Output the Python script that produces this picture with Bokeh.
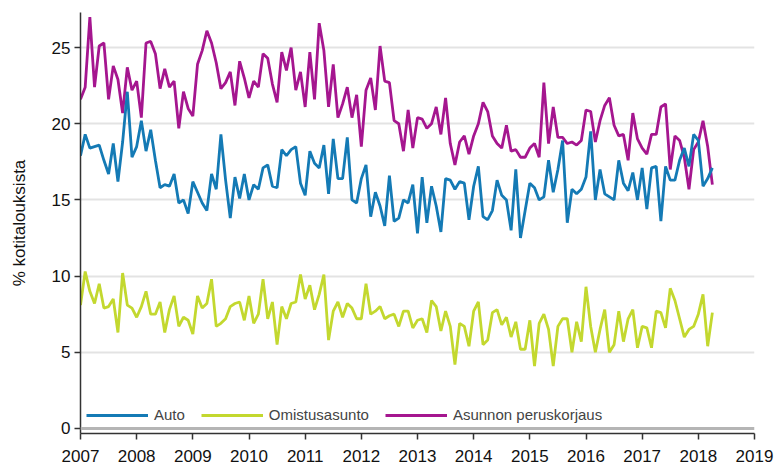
from bokeh.plotting import figure
from bokeh.models import FixedTicker, Span, Legend, LegendItem, ColumnDataSource
from bokeh.embed import file_html
from bokeh.resources import INLINE

start_year = 2007
asunnon = [
    21.6, 22.4, 27.0, 22.4, 25.1, 25.3, 21.6, 23.8, 22.9, 20.7, 23.7, 22.2,
    22.8, 20.4, 25.3, 25.4, 24.6, 22.3, 23.6, 22.4, 22.8, 19.7, 22.1, 21.0,
    20.5, 23.9, 24.8, 26.1, 25.3, 24.0, 22.3, 22.7, 23.4, 21.2, 24.1, 23.0,
    21.7, 22.8, 22.4, 24.6, 24.3, 22.6, 21.4, 24.7, 23.5, 25.0, 22.2, 23.4,
    21.1, 24.7, 21.6, 26.6, 24.8, 21.1, 23.9, 20.4, 21.3, 22.4, 20.4, 21.9,
    18.5, 22.2, 23.0, 20.9, 25.1, 22.8, 22.7, 20.2, 20.0, 18.2, 20.9, 18.4,
    20.4, 20.3, 19.7, 20.0, 21.1, 19.3, 21.7, 18.7, 17.3, 18.8, 19.2, 18.0,
    19.2, 20.0, 21.4, 20.8, 19.2, 18.7, 18.4, 19.9, 18.2, 18.3, 17.8, 17.8,
    18.4, 18.7, 17.8, 22.7, 18.7, 21.1, 19.1, 19.1, 18.7, 18.8, 18.6, 18.9,
    20.9, 20.8, 18.8, 20.2, 21.2, 21.7, 19.9, 19.2, 19.3, 17.6, 20.7, 19.0,
    18.4, 18.0, 19.3, 19.3, 21.1, 21.3, 17.0, 19.2, 18.9, 17.8, 15.7, 18.3,
    18.8, 20.2, 18.5, 16.0,
]
auto = [
    17.9, 19.3, 18.4, 18.5, 18.6, 17.6, 16.7, 18.7, 16.2, 18.8, 22.1, 17.8,
    18.5, 20.2, 18.2, 19.6, 17.6, 15.8, 16.0, 15.9, 16.7, 14.8, 15.0, 14.1,
    16.2, 15.5, 14.8, 14.3, 16.7, 15.7, 19.3, 16.3, 13.8, 16.5, 15.1, 16.7,
    15.0, 16.0, 15.7, 17.1, 17.3, 15.9, 15.8, 18.3, 17.9, 18.3, 18.5, 16.1,
    15.3, 18.2, 17.4, 17.1, 18.6, 15.4, 19.0, 16.4, 16.4, 19.1, 15.0, 14.8,
    16.4, 17.3, 13.9, 15.5, 14.6, 13.3, 16.6, 13.6, 13.8, 15.0, 14.8, 16.0,
    12.8, 16.5, 13.5, 15.9, 14.6, 12.9, 16.4, 16.3, 15.7, 16.2, 16.1, 13.7,
    15.9, 17.2, 13.9, 13.7, 14.3, 16.3, 15.3, 15.0, 13.0, 17.0, 12.5, 14.3,
    16.1, 15.8, 15.0, 15.2, 17.6, 15.5, 17.0, 18.9, 13.5, 15.7, 15.4, 15.7,
    16.5, 19.5, 15.0, 17.0, 15.4, 15.2, 15.0, 17.6, 16.1, 15.6, 16.8, 15.0,
    17.1, 14.4, 17.1, 17.2, 13.6, 17.2, 16.3, 16.3, 17.6, 18.4, 17.2, 19.3,
    18.9, 15.9, 16.4, 17.1,
]
omistus = [
    8.1, 10.3, 9.0, 8.2, 9.5, 7.9, 8.0, 8.5, 6.3, 10.2, 8.1, 7.9,
    7.3, 8.0, 9.0, 7.5, 7.5, 8.3, 6.3, 7.8, 8.7, 6.7, 7.3, 7.1,
    6.2, 8.7, 7.9, 8.2, 9.8, 6.7, 6.9, 7.2, 8.0, 8.2, 8.3, 7.1,
    8.7, 6.9, 7.5, 9.8, 7.2, 8.3, 5.5, 8.0, 7.2, 8.2, 8.3, 10.1,
    8.5, 9.4, 7.8, 8.8, 10.1, 5.8, 7.7, 8.3, 7.3, 8.2, 7.9, 7.2,
    7.2, 9.5, 7.5, 7.7, 8.0, 7.2, 7.4, 7.5, 6.7, 7.7, 7.7, 6.6,
    7.1, 7.2, 6.3, 8.4, 8.0, 6.4, 7.7, 6.7, 4.2, 6.9, 6.7, 5.4,
    7.7, 8.3, 5.5, 5.8, 7.6, 7.8, 6.8, 7.3, 6.0, 7.0, 5.2, 5.2,
    7.1, 4.1, 6.9, 7.5, 6.5, 4.1, 6.7, 7.2, 7.2, 5.0, 7.0, 5.7,
    9.3, 6.7, 5.0, 6.5, 7.8, 5.0, 5.5, 7.7, 5.7, 7.2, 7.8, 5.3,
    6.7, 6.6, 5.3, 7.7, 7.6, 6.6, 9.2, 8.4, 7.2, 6.0, 6.5, 6.7,
    7.5, 8.8, 5.4, 7.6,
]
year_ticks = list(range(2007, 2020))
y_ticks = [0, 5, 10, 15, 20, 25]
series_names = ["Auto", "Omistusasunto", "Asunnon peruskorjaus"]

x = [start_year + i / 12 for i in range(len(auto))]
src = ColumnDataSource(dict(x=x, auto=auto, omistus=omistus, asunnon=asunnon))

FONT = "'Liberation Sans', Arial, sans-serif"

p = figure(width=774, height=468, x_range=(2007, 2019), y_range=(-0.33, 27.3),
           output_backend="svg", toolbar_location=None,
           min_border_left=80, min_border_right=20, min_border_top=12, min_border_bottom=35)
p.outline_line_color = None
p.background_fill_color = "white"
p.border_fill_color = "white"

p.xgrid.grid_line_color = None
p.ygrid.grid_line_color = "#e3e3e3"
p.ygrid.grid_line_width = 2
p.ygrid.ticker = FixedTicker(ticks=[5, 10, 15, 20, 25])

p.add_layout(Span(location=0, dimension="width", line_color="#b5b5b5", line_width=3))

r_as = p.line("x", "asunnon", source=src, line_color="#a5168f", line_width=2.8)
r_om = p.line("x", "omistus", source=src, line_color="#c3d82f", line_width=2.8)
r_au = p.line("x", "auto", source=src, line_color="#147ab5", line_width=2.8)

p.xaxis.ticker = FixedTicker(ticks=year_ticks)
p.yaxis.ticker = FixedTicker(ticks=y_ticks)
for ax in (p.xaxis[0], p.yaxis[0]):
    ax.axis_line_color = "#333333"
    ax.axis_line_width = 1.5
    ax.major_tick_line_color = "#333333"
    ax.major_tick_line_width = 1.5
    ax.major_tick_out = 6
    ax.major_tick_in = 0
    ax.minor_tick_line_color = None
    ax.major_label_text_font = FONT
    ax.major_label_text_font_size = "17px"
    ax.major_label_text_color = "#111111"
p.xaxis.major_label_standoff = 10
p.yaxis.major_label_standoff = 4
p.yaxis.axis_label = "% kotitalouksista"
p.yaxis.axis_label_text_font = FONT
p.yaxis.axis_label_text_font_size = "17px"
p.yaxis.axis_label_text_font_style = "normal"
p.yaxis.axis_label_text_color = "#111111"
p.yaxis.axis_label_standoff = 20

legend = Legend(items=[
    LegendItem(label=series_names[0], renderers=[r_au]),
    LegendItem(label=series_names[1], renderers=[r_om]),
    LegendItem(label=series_names[2], renderers=[r_as]),
], orientation="horizontal", location=(6, 10))
legend.background_fill_alpha = 0
legend.border_line_color = None
legend.glyph_width = 62
legend.glyph_height = 14
legend.label_text_font = FONT
legend.label_text_font_size = "15px"
legend.label_standoff = 6
legend.spacing = 16
legend.padding = 2
legend.margin = 0
p.add_layout(legend)

open("out.html", "w").write(file_html(p, INLINE))
